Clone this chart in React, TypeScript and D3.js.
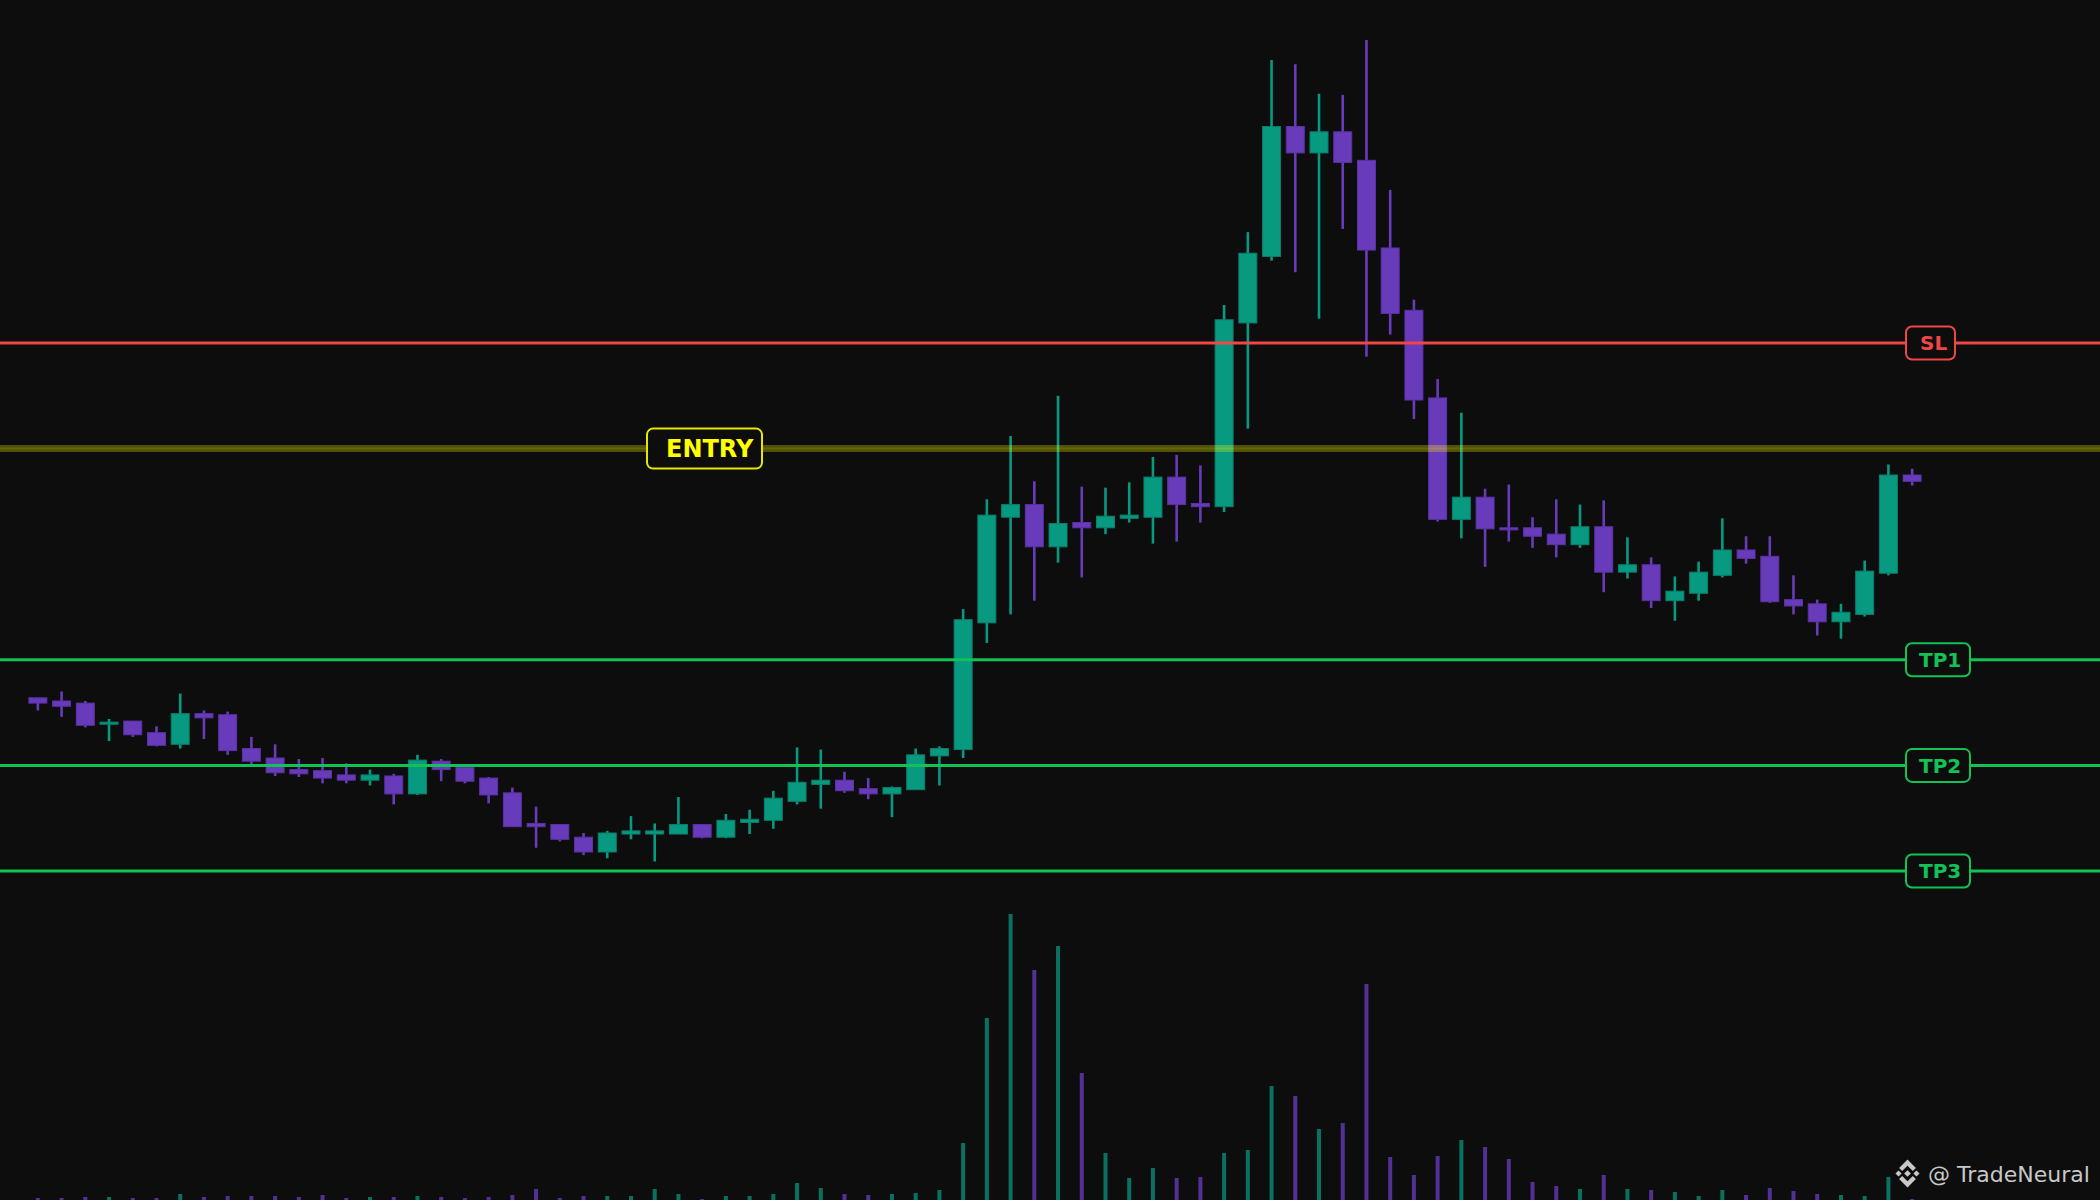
import React from "react";
import * as d3 from "d3";

// ---- Data ----
const OPEN = [47.64,47.61,47.59,47.39,47.42,47.31,47.20,47.49,47.48,47.16,47.07,46.96,46.95,46.91,46.86,46.90,46.73,47.04,46.98,46.88,46.74,46.45,46.44,46.32,46.18,46.35,46.35,46.35,46.44,46.32,46.46,46.48,46.66,46.82,46.86,46.78,46.73,46.77,47.09,47.15,48.35,49.35,49.47,49.07,49.30,49.25,49.34,49.35,49.73,49.48,49.45,51.19,51.82,53.05,52.80,53.00,52.73,51.90,51.31,50.48,49.33,49.54,49.25,49.25,49.19,49.09,49.26,48.83,48.90,48.56,48.63,48.80,49.04,48.98,48.57,48.53,48.36,48.43,48.82,49.75];
const HIGH = [47.64,47.70,47.61,47.44,47.42,47.37,47.68,47.52,47.51,47.27,47.20,47.06,47.07,47.02,46.96,46.92,47.10,47.06,47.01,46.89,46.79,46.61,46.44,46.36,46.38,46.52,46.45,46.70,46.44,46.54,46.58,46.76,47.17,47.15,46.94,46.88,46.80,47.16,47.18,48.48,49.52,50.12,49.69,50.50,49.64,49.63,49.68,49.92,49.94,49.84,51.36,52.05,53.68,53.64,53.36,53.35,53.87,52.45,51.41,50.66,50.34,49.62,49.66,49.35,49.52,49.47,49.51,49.16,48.97,48.79,48.93,49.34,49.17,49.17,48.80,48.57,48.53,48.94,49.85,49.81];
const LOW = [47.52,47.46,47.36,47.23,47.27,47.18,47.16,47.25,47.10,47.01,46.90,46.89,46.83,46.83,46.81,46.63,46.72,46.85,46.83,46.64,46.42,46.22,46.28,46.15,46.12,46.30,46.09,46.35,46.31,46.31,46.35,46.40,46.63,46.59,46.74,46.68,46.51,46.77,46.81,47.07,48.16,48.43,48.56,48.92,48.78,49.19,49.30,49.10,49.12,49.30,49.40,50.19,51.78,51.67,51.23,52.08,50.87,51.08,50.28,49.31,49.15,48.88,49.12,49.06,48.97,49.06,48.64,48.77,48.49,48.37,48.56,48.78,48.91,48.54,48.43,48.23,48.20,48.41,48.80,49.65];
const CLOSE = [47.59,47.56,47.38,47.41,47.29,47.19,47.49,47.45,47.14,47.04,46.93,46.92,46.88,46.86,46.91,46.73,47.05,46.96,46.85,46.72,46.42,46.42,46.30,46.18,46.36,46.38,46.38,46.44,46.32,46.48,46.49,46.69,46.84,46.86,46.76,46.73,46.79,47.10,47.16,48.38,49.37,49.47,49.07,49.29,49.25,49.36,49.37,49.73,49.47,49.45,51.22,51.85,53.05,52.80,53.00,52.71,51.88,51.28,50.46,49.33,49.54,49.24,49.23,49.17,49.09,49.26,48.83,48.90,48.56,48.65,48.83,49.04,48.96,48.55,48.51,48.36,48.45,48.84,49.75,49.69];
const VOLUME = [20,20,30,30,20,20,60,30,40,40,40,30,50,20,30,30,40,30,20,30,50,110,20,40,40,40,110,60,10,40,40,60,170,120,60,50,60,70,100,570,1820,2860,2300,2540,1270,470,220,320,220,230,470,500,1140,1040,710,770,2160,430,250,440,600,530,410,180,140,110,250,110,100,80,40,100,50,120,90,60,50,40,230,10];

const LEVEL_NAMES = ["SL", "ENTRY", "TP1", "TP2", "TP3"];
const LEVEL_PRICES = [51, 50, 48, 47, 46];
const WATERMARK = "@ TradeNeural";

// ---- Layout / style ----
const W = 2100;
const H = 1200;
const BG = "#0d0d0d";
const UP = "#089981";
const UP_EDGE = "#0b7f6c";
const DOWN = "#683bba";
const DOWN_EDGE = "#5a32a6";

const levelStyle: Record<string, { color: string; width: number; opacity: number; box: { x: number; w: number; h: number; fs: number; pad: number } }> = {
  SL: { color: "#f04646", width: 3, opacity: 1, box: { x: 1906, w: 49, h: 33, fs: 20, pad: 14 } },
  ENTRY: { color: "#ffff00", width: 7, opacity: 0.28, box: { x: 647, w: 115, h: 40, fs: 24, pad: 19 } },
  TP1: { color: "#12c257", width: 3, opacity: 1, box: { x: 1906, w: 64, h: 33, fs: 20, pad: 13 } },
  TP2: { color: "#12c257", width: 3, opacity: 1, box: { x: 1906, w: 64, h: 33, fs: 20, pad: 13 } },
  TP3: { color: "#12c257", width: 3, opacity: 1, box: { x: 1906, w: 64, h: 33, fs: 20, pad: 13 } },
};

export default function App() {
  const n = OPEN.length;
  const x = d3.scaleBand<number>().domain(d3.range(n)).range([26, 1924]).paddingInner(0);
  const bw = x.bandwidth();
  const cx = (i: number) => (x(i) as number) + bw / 2;
  const y = d3.scaleLinear().domain([46, 51]).range([871, 343]);
  const vy = d3.scaleLinear().domain([0, d3.max(VOLUME) as number]).range([H, 914]);
  const bodyW = bw * 0.8;

  return (
    <div style={{ position: "absolute", left: 0, top: 0, width: W, height: H, background: BG }}>
      <svg width={W} height={H} style={{ display: "block", fontFamily: "'DejaVu Sans', sans-serif" }}>
        <rect x={0} y={0} width={W} height={H} fill={BG} />
        {/* volume */}
        <g>
          {VOLUME.map((v, i) => {
            const up = CLOSE[i] >= OPEN[i];
            return (
              <rect
                key={"v" + i}
                x={cx(i) - 2}
                y={vy(v)}
                width={4}
                height={H - vy(v)}
                fill={up ? UP : DOWN}
                opacity={up ? 0.72 : 0.78}
              />
            );
          })}
        </g>
        {/* candles */}
        <g>
          {OPEN.map((o, i) => {
            const c = CLOSE[i];
            const up = c >= o;
            const top = y(Math.max(o, c));
            const bot = y(Math.min(o, c));
            return (
              <g key={"c" + i}>
                <line
                  x1={cx(i)}
                  x2={cx(i)}
                  y1={y(HIGH[i])}
                  y2={y(LOW[i])}
                  stroke={up ? UP : DOWN}
                  strokeWidth={2.6}
                />
                <rect
                  x={cx(i) - bodyW / 2 + 0.5}
                  y={top}
                  width={bodyW - 1}
                  height={Math.max(bot - top, 2)}
                  fill={up ? UP : DOWN}
                  stroke={up ? UP_EDGE : DOWN_EDGE}
                  strokeWidth={1}
                />
              </g>
            );
          })}
        </g>
        {/* level lines */}
        <g>
          {LEVEL_NAMES.map((name, k) => {
            const s = levelStyle[name];
            const ly = y(LEVEL_PRICES[k]);
            return (
              <g key={"l" + name}>
                <line x1={0} x2={W} y1={ly} y2={ly} stroke={s.color} strokeWidth={s.width} strokeOpacity={s.opacity} />
                {name === "ENTRY" && (
                  <line x1={0} x2={W} y1={ly} y2={ly} stroke={s.color} strokeWidth={2} strokeOpacity={0.12} />
                )}
              </g>
            );
          })}
        </g>
        {/* labels */}
        <g>
          {LEVEL_NAMES.map((name, k) => {
            const s = levelStyle[name];
            const ly = y(LEVEL_PRICES[k]);
            const b = s.box;
            const col = name === "ENTRY" ? "#ffff00" : s.color;
            return (
              <g key={"t" + name}>
                <rect
                  x={b.x}
                  y={ly - b.h / 2}
                  width={b.w}
                  height={b.h}
                  rx={6}
                  ry={6}
                  fill={BG}
                  stroke={name === "ENTRY" ? "#e6e600" : col}
                  strokeWidth={2}
                />
                <text
                  x={b.x + b.pad}
                  y={ly + b.fs * 0.36}
                  fill={col}
                  fontSize={b.fs}
                  fontWeight="bold"
                >
                  {name}
                </text>
              </g>
            );
          })}
        </g>
        {/* watermark */}
        <g transform="translate(1893.5,1159.5) scale(0.28)" fill="#c8c8c8">
          <polygon points="50,0 80,30 69,41 50,22 31,41 20,30" />
          <polygon points="50,100 80,70 69,59 50,78 31,59 20,70" />
          <polygon points="18,39 29,50 18,61 7,50" />
          <polygon points="82,39 93,50 82,61 71,50" />
          <polygon points="50,38 62,50 50,62 38,50" />
        </g>
        <text x={1928} y={1182} fill="#c8c8c8" fontSize={22}>
          {WATERMARK}
        </text>
      </svg>
    </div>
  );
}
